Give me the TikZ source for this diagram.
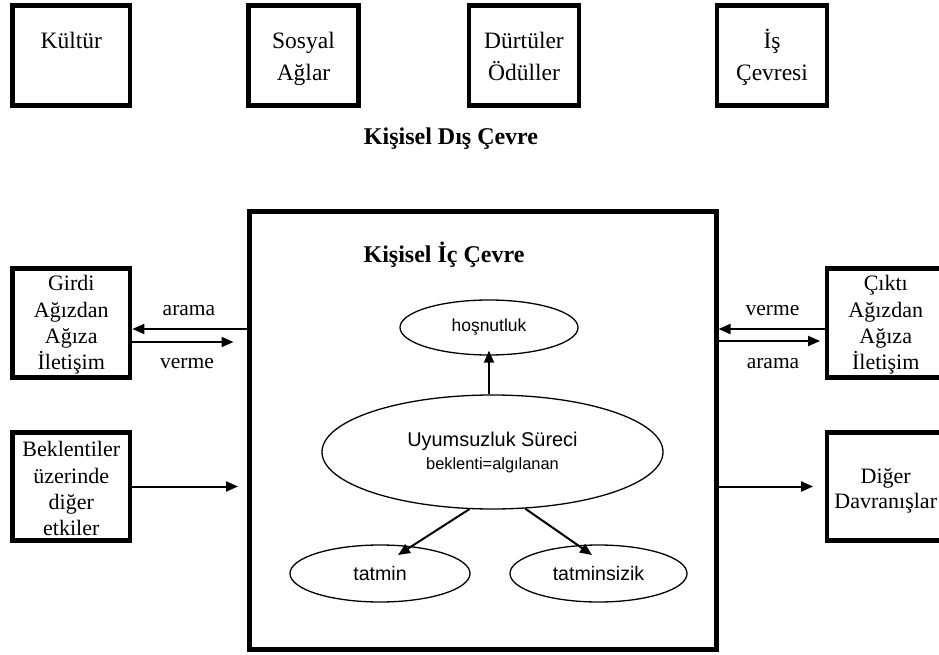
\documentclass[tikz,border=0pt]{standalone}
\usepackage{fontspec}
\setmainfont{Liberation Serif}
\newfontfamily\sansf{Liberation Sans}
\usetikzlibrary{arrows.meta,shapes.geometric,calc}
% fixed ascent for the first line of a multi-line label
\newcommand\firstline{\rule{0pt}{20pt}}

\begin{document}
\begin{tikzpicture}[x=1pt,y=-1pt,
  frame/.style={draw, line width=4.8pt, inner sep=0pt},
  bigframe/.style={draw, line width=5pt, inner sep=0pt, minimum width=467pt, minimum height=438pt},
  sidebox/.style={frame, minimum width=117.5pt, minimum height=108.5pt},
  topbox/.style={frame, minimum height=100.5pt},
  toptext/.style={anchor=north, inner sep=0pt, align=center, font=\fontsize{23.5}{32}\selectfont},
  sidetext/.style={anchor=north, inner sep=0pt, align=center, font=\fontsize{22}{#1}\selectfont},
  headtext/.style={anchor=base, inner sep=0pt, font=\fontsize{24}{28}\selectfont\bfseries},
  flowtext/.style={anchor=base, inner sep=0pt, font=\fontsize{21.5}{26}\selectfont},
  oval/.style={draw, ellipse, line width=1.3pt, inner sep=0pt, align=center,
    font=\sansf\fontsize{19.6}{23}\selectfont},
  arr/.style={line width=2pt, -{Triangle[length=12pt,width=10pt]}}
]
\useasboundingbox (0,0) rectangle (939,655);
\clip (0,0) rectangle (939,655);

% outer environment boxes
\node[topbox, minimum width=117.5pt] (kultur) at (71.25,55.5) {};
\node[topbox, minimum width=109.6pt] (sosyal) at (303.5,55.5) {};
\node[topbox, minimum width=110pt]   (durtu)  at (524,55.5) {};
\node[topbox, minimum width=110pt]   (is)     at (772,55.5) {};
\node[toptext] (kultur-t) at (71.25,28) {\firstline Kültür};
\node[toptext] (sosyal-t) at (303.5,28) {\firstline Sosyal\\Ağlar};
\node[toptext] (durtu-t)  at (524,28)   {\firstline Dürtüler\\Ödüller};
\node[toptext] (is-t)     at (772,28)   {\firstline İş\\Çevresi};

\node[headtext] (dis) at (451,145) {Kişisel Dış Çevre};

% inner environment
\node[bigframe] (big) at (482.5,430) {};
\node[headtext] (ic) at (444,262) {Kişisel İç Çevre};

% side boxes
\node[sidebox] (girdi) at (71.25,323) {};
\node[sidetext=26.4] (girdi-t) at (71.25,270.5) {\firstline Girdi\\Ağızdan\\Ağıza\\İletişim};
\node[sidebox] (bekl) at (71.25,486.5) {};
\node[sidetext=26.3] (bekl-t) at (71.25,436.5) {\firstline Beklentiler\\üzerinde\\diğer\\etkiler};
\node[sidebox] (cikti) at (885.75,323) {};
\node[sidetext=26.4] (cikti-t) at (885.75,270.5) {\firstline Çıktı\\Ağızdan\\Ağıza\\İletişim};
\node[sidebox] (diger) at (885.75,486.5) {};
\node[sidetext=25] (diger-t) at (885.75,463) {\firstline Diğer\\Davranışlar};

% word-of-mouth flows
\draw[arr] ([yshift=-6pt]girdi.east -| big.west) -- ([yshift=-6pt]girdi.east);
\draw[arr, shorten >=13pt] ([yshift=-19pt]girdi.east) -- ([yshift=-19pt]girdi.east -| big.west);
\node[flowtext] (l-arama) at (189,315) {arama};
\node[flowtext] (l-verme) at (187,368) {verme};
\draw[arr] ([yshift=-6pt]cikti.west) -- ([yshift=-6pt]cikti.west -| big.east);
\draw[arr, shorten >=4.5pt] ([yshift=-18pt]cikti.west -| big.east) -- ([yshift=-18pt]cikti.west);
\node[flowtext] (r-verme) at (772.5,315) {verme};
\node[flowtext] (r-arama) at (773,368) {arama};

\draw[arr, shorten >=8.5pt] (bekl.east) -- (bekl.east -| big.west);
\draw[arr, shorten >=11.5pt] (diger.west -| big.east) -- (diger.west);

% disconfirmation process
\node[oval, minimum width=178pt, minimum height=55pt, font=\sansf\fontsize{17.5}{21}\selectfont]
  (hos) at (489,327.5) {hoşnutluk};
\node[oval, minimum width=341pt, minimum height=114pt, font=\sansf\fontsize{19.9}{23}\selectfont]
  (uyum) at (492.5,452) {Uyumsuzluk Süreci\\{\fontsize{16.4}{20}\selectfont beklenti=algılanan}};
\node[oval, minimum width=180pt, minimum height=57pt] (tatmin) at (380,573.5) {tatmin};
\node[oval, minimum width=177pt, minimum height=57pt] (tatmsz) at (598.5,573.5) {tatminsizik};

\draw[arr, shorten >=-5pt] (hos.south |- uyum.north) -- (hos.south);
\draw[arr] (uyum.-112) -- ($(tatmin.center)+(18,-18.5)$);
\draw[arr] (uyum.-60) -- ($(tatmsz.center)+(-6.5,-18.5)$);
\end{tikzpicture}
\end{document}
